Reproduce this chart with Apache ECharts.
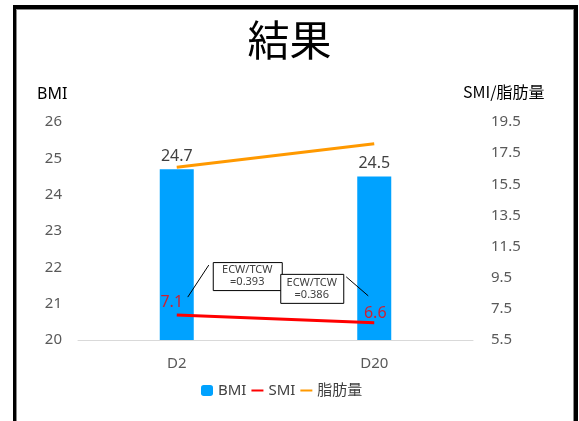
<!DOCTYPE html>
<html>
<head>
<meta charset="utf-8">
<script src="https://cdn.jsdelivr.net/npm/echarts@6/dist/echarts.min.js"></script>
<style>
html,body{margin:0;padding:0;background:#fff;}
#wrap{position:relative;width:579px;height:421px;overflow:hidden;}
#chart{position:absolute;left:0;top:0;width:579px;height:421px;}
#frame{position:absolute;left:13px;top:5px;width:558px;height:460px;border-style:solid;border-color:#000;border-width:4px 4px 0 3px;box-shadow:inset 0 0 0 1px #8a8a8a;pointer-events:none;}
</style>
</head>
<body>
<div id="wrap"><div id="chart"></div><div id="frame"></div></div>
<script>
const titleText = '結果';
const categories = ['D2', 'D20'];
const bmiValues = [24.7, 24.5];
const smiValues = [7.1, 6.6];
const fatValues = [16.6, 18.1];
const seriesNames = ['BMI', 'SMI', '脂肪量'];
const leftAxisName = 'BMI';
const rightAxisName = 'SMI/脂肪量';
const annotationTexts = ['ECW/TCW\n=0.393', 'ECW/TCW\n=0.386'];

const LATIN = '"Noto Sans", "Noto Sans CJK JP", sans-serif';
const CJK = '"Noto Sans CJK JP", "Noto Sans", sans-serif';

const chart = echarts.init(document.getElementById('chart'), null, {renderer: 'canvas'});

const option = {
  backgroundColor: '#fff',
  animation: false,
  title: {
    text: titleText,
    left: 'center',
    top: 14,
    textStyle: {fontFamily: CJK, fontSize: 42, fontWeight: 'normal', color: '#000'}
  },
  legend: {
    data: seriesNames.map((n, i) => i === 0 ? {name: n} : {name: n, itemStyle: {opacity: 0}}),
    left: 196,
    top: 378,
    itemWidth: 12,
    itemHeight: 11,
    itemGap: 4,
    textStyle: {fontFamily: LATIN, fontSize: 15, color: '#404040'}
  },
  grid: {left: 78, right: 106, top: 122, bottom: 81, containLabel: false},
  xAxis: {
    type: 'category',
    data: categories,
    axisLine: {lineStyle: {color: '#d9d9d9', width: 1}},
    axisTick: {show: false},
    axisLabel: {fontFamily: LATIN, fontSize: 15, color: '#595959', margin: 16}
  },
  yAxis: [
    {
      type: 'value', min: 20, max: 26, interval: 1,
      axisLine: {show: false}, axisTick: {show: false}, splitLine: {show: false},
      axisLabel: {fontFamily: LATIN, fontSize: 15, color: '#595959', margin: 16}
    },
    {
      type: 'value', min: 5.5, max: 19.5, interval: 2,
      axisLine: {show: false}, axisTick: {show: false}, splitLine: {show: false},
      axisLabel: {fontFamily: LATIN, fontSize: 15, color: '#595959', margin: 18,
        formatter: v => v.toFixed(1)}
    }
  ],
  series: [
    {
      name: seriesNames[0], type: 'bar', yAxisIndex: 0, data: bmiValues, barWidth: 34,
      itemStyle: {color: '#00A2FF'},
      label: {show: true, position: 'top', distance: 5, fontFamily: LATIN, fontSize: 16, color: '#404040'}
    },
    {
      name: seriesNames[1], type: 'line', yAxisIndex: 1, data: smiValues,
      symbol: 'none', lineStyle: {color: '#FF0000', width: 3}, itemStyle: {color: '#FF0000'},
      z: 5
    },
    {
      name: seriesNames[2], type: 'line', yAxisIndex: 1, data: fatValues,
      symbol: 'none', lineStyle: {color: '#FF9900', width: 3}, itemStyle: {color: '#FF9900'},
      z: 4
    },
    {
      name: 'SMI-label', type: 'scatter', yAxisIndex: 1,
      data: smiValues.map((v, i) => ({value: v, label: {offset: i === 0 ? [-5, 1] : [1, 4]}})),
      symbol: 'circle', symbolSize: 1, itemStyle: {color: 'rgba(0,0,0,0)'},
      label: {show: true, position: 'top', distance: 5, fontFamily: LATIN, fontSize: 16, color: '#FF0000'},
      z: 6, silent: true
    }
  ],
  graphic: [
    {type: 'text', left: 37, top: 86, style: {text: leftAxisName, font: '16px ' + LATIN, fill: '#000'}},
    {type: 'text', left: 463, top: 84, style: {text: rightAxisName, font: '16px ' + CJK, fill: '#000'}}
  ]
};
chart.setOption(option);

// annotation boxes anchored to the SMI points
const boxDefs = [
  {box: [36, -53, 69, 28], line: [11, -18, 32, -50]},
  {box: [-94, -49, 63, 29], line: [-6, -27, -28, -46]}
];
const extra = [];
smiValues.forEach((v, i) => {
  const p = chart.convertToPixel({xAxisIndex: 0, yAxisIndex: 1}, [categories[i], v]);
  const d = boxDefs[i];
  extra.push({
    type: 'line', z: 20,
    shape: {x1: p[0] + d.line[0], y1: p[1] + d.line[1], x2: p[0] + d.line[2], y2: p[1] + d.line[3]},
    style: {stroke: '#000', lineWidth: 1}
  });
  extra.push({
    type: 'rect', z: 21,
    shape: {x: p[0] + d.box[0] + 0.5, y: p[1] + d.box[1] + 0.5, width: d.box[2], height: d.box[3]},
    style: {fill: '#fff', stroke: '#000', lineWidth: 1}
  });
  extra.push({
    type: 'text', z: 22,
    x: p[0] + d.box[0] + d.box[2] / 2, y: p[1] + d.box[1] + d.box[3] / 2,
    style: {text: annotationTexts[i], font: '11px ' + LATIN, fill: '#404040', align: 'center', verticalAlign: 'middle', lineHeight: 12}
  });
});
chart.setOption({graphic: option.graphic.concat(extra)});
</script>
</body>
</html>
